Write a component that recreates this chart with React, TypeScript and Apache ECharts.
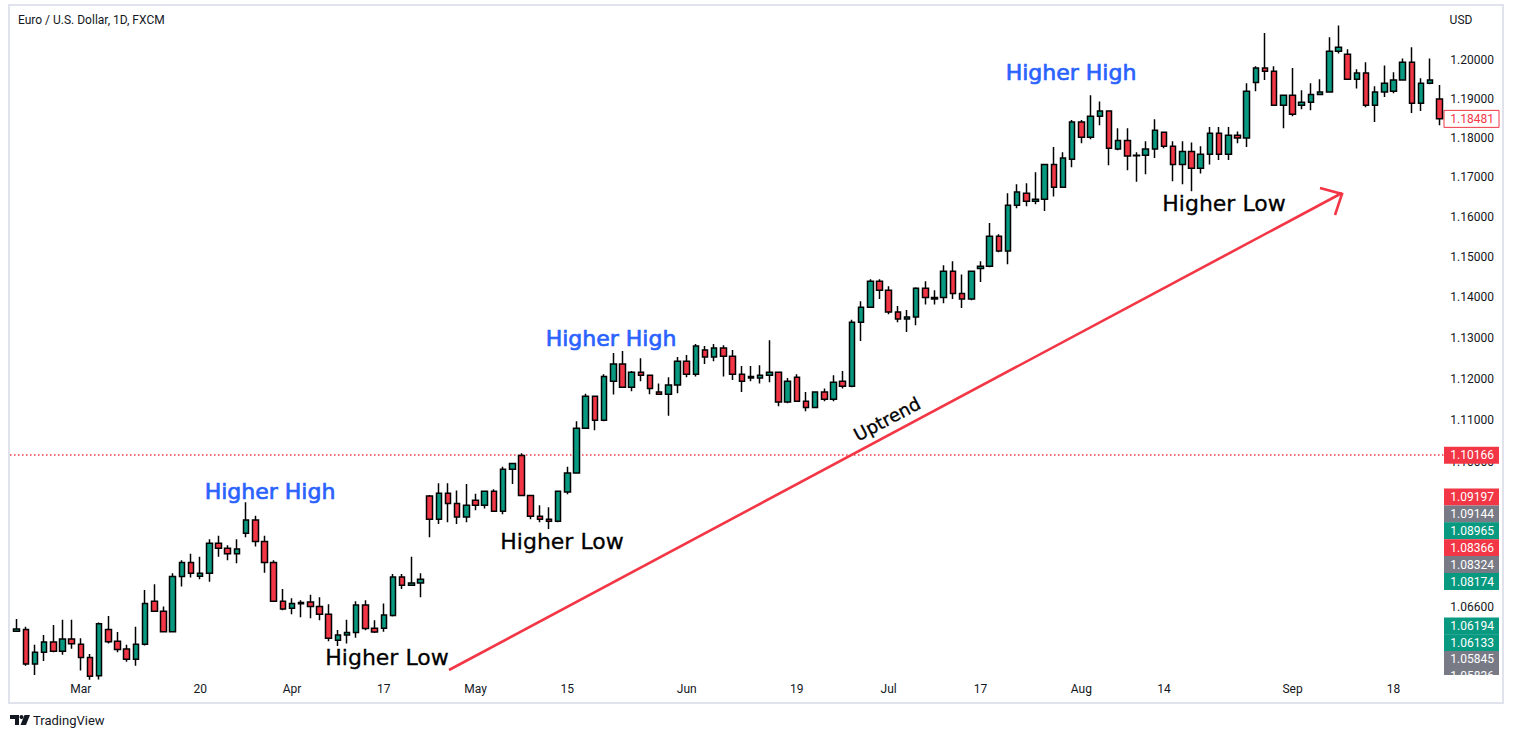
import React, { useEffect, useRef } from "react";
import * as echarts from "echarts";

// ---- DATA (EUR/USD daily) ----
const firstDay = "2017-02-20";
const lastDay = "2017-09-25";

const opens = [
  1.0605, 1.0609, 1.0530, 1.0557, 1.0580, 1.0559, 1.0587, 1.0575, 1.0545, 1.0503,
  1.0609, 1.0582, 1.0564, 1.0541, 1.0575, 1.0674, 1.0651, 1.0604, 1.0731, 1.0764,
  1.0732, 1.0739, 1.0809, 1.0797, 1.0784, 1.0832, 1.0863, 1.0813, 1.0764, 1.0674,
  1.0658, 1.0668, 1.0672, 1.0662, 1.0644, 1.0584, 1.0596, 1.0602, 1.0665, 1.0612,
  1.0612, 1.0641, 1.0730, 1.0711, 1.0716, 1.0920, 1.0865, 1.0926, 1.0902, 1.0870,
  1.0910, 1.0898, 1.0931, 1.0884, 1.0983, 1.1016, 1.0921, 1.0872, 1.0865, 1.0860,
  1.0929, 1.0974, 1.1081, 1.1158, 1.1100, 1.1194, 1.1236, 1.1180, 1.1216, 1.1209,
  1.1168, 1.1163, 1.1185, 1.1243, 1.1211, 1.1270, 1.1253, 1.1275, 1.1255, 1.1211,
  1.1206, 1.1202, 1.1209, 1.1216, 1.1144, 1.1204, 1.1146, 1.1131, 1.1168, 1.1151,
  1.1194, 1.1182, 1.1338, 1.1375, 1.1439, 1.1417, 1.1363, 1.1346, 1.1351, 1.1422,
  1.1395, 1.1399, 1.1464, 1.1409, 1.1395, 1.1471, 1.1476, 1.1551, 1.1514, 1.1629,
  1.1659, 1.1639, 1.1644, 1.1732, 1.1674, 1.1745, 1.1840, 1.1801, 1.1855, 1.1868,
  1.1771, 1.1793, 1.1754, 1.1755, 1.1771, 1.1814, 1.1778, 1.1732, 1.1765, 1.1722,
  1.1758, 1.1811, 1.1758, 1.1806, 1.1799, 1.1942, 1.1979, 1.1971, 1.1883, 1.1909,
  1.1883, 1.1891, 1.1911, 1.1917, 1.2023, 1.2015, 1.1950, 1.1966, 1.1883, 1.1917,
  1.1919, 1.1948, 1.1994, 1.1888, 1.1940, 1.1899,
];
const highs = [
  1.0633, 1.0615, 1.0574, 1.0596, 1.0619, 1.0631, 1.0631, 1.0589, 1.0553, 1.0625,
  1.0640, 1.0603, 1.0574, 1.0615, 1.0700, 1.0713, 1.0662, 1.0739, 1.0769, 1.0784,
  1.0777, 1.0818, 1.0826, 1.0804, 1.0818, 1.0905, 1.0873, 1.0826, 1.0769, 1.0702,
  1.0681, 1.0676, 1.0689, 1.0683, 1.0667, 1.0608, 1.0631, 1.0674, 1.0676, 1.0630,
  1.0669, 1.0737, 1.0737, 1.0777, 1.0739, 1.0922, 1.0950, 1.0950, 1.0933, 1.0948,
  1.0925, 1.0933, 1.0936, 1.0989, 1.0998, 1.1021, 1.0922, 1.0898, 1.0893, 1.0932,
  1.0989, 1.1098, 1.1164, 1.1159, 1.1211, 1.1263, 1.1268, 1.1219, 1.1250, 1.1210,
  1.1189, 1.1204, 1.1253, 1.1258, 1.1285, 1.1280, 1.1285, 1.1282, 1.1270, 1.1231,
  1.1231, 1.1233, 1.1294, 1.1217, 1.1202, 1.1211, 1.1168, 1.1169, 1.1177, 1.1209,
  1.1219, 1.1344, 1.1390, 1.1444, 1.1444, 1.1427, 1.1378, 1.1368, 1.1424, 1.1439,
  1.1417, 1.1479, 1.1489, 1.1456, 1.1465, 1.1489, 1.1584, 1.1556, 1.1659, 1.1682,
  1.1684, 1.1712, 1.1733, 1.1776, 1.1763, 1.1845, 1.1845, 1.1909, 1.1893, 1.1869,
  1.1824, 1.1824, 1.1763, 1.1791, 1.1847, 1.1815, 1.1791, 1.1791, 1.1788, 1.1778,
  1.1827, 1.1827, 1.1827, 1.1816, 1.1940, 1.1984, 1.2070, 1.1984, 1.1911, 1.1979,
  1.1922, 1.1940, 1.1950, 1.2059, 1.2090, 1.2028, 1.1976, 1.1994, 1.1932, 1.1986,
  1.1968, 1.2004, 1.2033, 1.1953, 1.2004, 1.1935,
];
const lows = [
  1.0603, 1.0526, 1.0505, 1.0537, 1.0557, 1.0551, 1.0565, 1.0515, 1.0494, 1.0495,
  1.0577, 1.0557, 1.0535, 1.0526, 1.0572, 1.0650, 1.0602, 1.0603, 1.0708, 1.0729,
  1.0725, 1.0719, 1.0777, 1.0769, 1.0762, 1.0823, 1.0801, 1.0740, 1.0672, 1.0653,
  1.0644, 1.0637, 1.0635, 1.0630, 1.0582, 1.0571, 1.0577, 1.0590, 1.0607, 1.0601,
  1.0604, 1.0639, 1.0702, 1.0709, 1.0683, 1.0823, 1.0854, 1.0858, 1.0854, 1.0858,
  1.0886, 1.0890, 1.0883, 1.0877, 1.0948, 1.0920, 1.0865, 1.0858, 1.0842, 1.0858,
  1.0924, 1.0973, 1.1080, 1.1076, 1.1098, 1.1162, 1.1178, 1.1170, 1.1194, 1.1163,
  1.1162, 1.1111, 1.1165, 1.1204, 1.1206, 1.1236, 1.1243, 1.1206, 1.1197, 1.1168,
  1.1194, 1.1189, 1.1192, 1.1134, 1.1141, 1.1145, 1.1122, 1.1129, 1.1146, 1.1146,
  1.1177, 1.1180, 1.1292, 1.1374, 1.1395, 1.1358, 1.1338, 1.1314, 1.1331, 1.1382,
  1.1382, 1.1385, 1.1395, 1.1373, 1.1392, 1.1437, 1.1474, 1.1511, 1.1481, 1.1621,
  1.1626, 1.1631, 1.1614, 1.1651, 1.1672, 1.1725, 1.1786, 1.1796, 1.1832, 1.1730,
  1.1768, 1.1717, 1.1688, 1.1707, 1.1748, 1.1773, 1.1689, 1.1682, 1.1664, 1.1709,
  1.1732, 1.1743, 1.1743, 1.1786, 1.1776, 1.1919, 1.1948, 1.1882, 1.1824, 1.1855,
  1.1873, 1.1870, 1.1909, 1.1916, 1.2017, 1.1949, 1.1926, 1.1878, 1.1840, 1.1904,
  1.1914, 1.1947, 1.1863, 1.1868, 1.1937, 1.1832,
];
const closes = [
  1.0610, 1.0530, 1.0557, 1.0580, 1.0559, 1.0587, 1.0576, 1.0545, 1.0502, 1.0622,
  1.0581, 1.0563, 1.0541, 1.0575, 1.0669, 1.0651, 1.0604, 1.0731, 1.0764, 1.0739,
  1.0739, 1.0809, 1.0797, 1.0784, 1.0795, 1.0863, 1.0813, 1.0764, 1.0674, 1.0656,
  1.0669, 1.0671, 1.0662, 1.0644, 1.0589, 1.0596, 1.0602, 1.0665, 1.0611, 1.0603,
  1.0642, 1.0730, 1.0711, 1.0716, 1.0725, 1.0865, 1.0926, 1.0902, 1.0870, 1.0898,
  1.0898, 1.0931, 1.0884, 1.0983, 1.0997, 1.0921, 1.0872, 1.0865, 1.0860, 1.0931,
  1.0974, 1.1081, 1.1158, 1.1100, 1.1206, 1.1236, 1.1180, 1.1216, 1.1209, 1.1177,
  1.1163, 1.1185, 1.1243, 1.1211, 1.1280, 1.1253, 1.1275, 1.1255, 1.1211, 1.1194,
  1.1202, 1.1209, 1.1216, 1.1144, 1.1194, 1.1146, 1.1131, 1.1168, 1.1151, 1.1192,
  1.1182, 1.1338, 1.1375, 1.1439, 1.1417, 1.1363, 1.1346, 1.1351, 1.1422, 1.1399,
  1.1399, 1.1464, 1.1409, 1.1395, 1.1464, 1.1476, 1.1551, 1.1514, 1.1629, 1.1662,
  1.1639, 1.1644, 1.1732, 1.1674, 1.1748, 1.1840, 1.1801, 1.1855, 1.1868, 1.1773,
  1.1793, 1.1753, 1.1755, 1.1771, 1.1819, 1.1778, 1.1732, 1.1765, 1.1722, 1.1758,
  1.1811, 1.1758, 1.1806, 1.1799, 1.1919, 1.1979, 1.1971, 1.1883, 1.1909, 1.1860,
  1.1891, 1.1911, 1.1917, 1.2023, 1.2033, 1.1950, 1.1966, 1.1883, 1.1917, 1.1940,
  1.1948, 1.1994, 1.1888, 1.1940, 1.1948, 1.18481,
];

const timeTicks: [string, string][] = [
  ["2017-03-01", "Mar"], ["2017-03-20", "20"], ["2017-04-03", "Apr"], ["2017-04-17", "17"],
  ["2017-05-01", "May"], ["2017-05-15", "15"], ["2017-06-01", "Jun"], ["2017-06-19", "19"],
  ["2017-07-03", "Jul"], ["2017-07-17", "17"], ["2017-08-01", "Aug"], ["2017-08-14", "14"],
  ["2017-09-01", "Sep"], ["2017-09-18", "18"],
];
const priceTicks = [1.2, 1.19, 1.18, 1.17, 1.16, 1.15, 1.14, 1.13, 1.12, 1.11, 1.1, 1.066];
const lastPrice = 1.18481;
const levelPrice = 1.10166;
const badgeStackA: [string, string][] = [
  ["1.09197", "red"], ["1.09144", "gray"], ["1.08965", "green"],
  ["1.08366", "red"], ["1.08324", "gray"], ["1.08174", "green"],
];
const badgeStackB: [string, string][] = [
  ["1.06194", "green"], ["1.06133", "green"], ["1.05845", "gray"], ["1.05836", "gray"],
];
const titleText = "Euro / U.S. Dollar, 1D, FXCM";
const currencyText = "USD";

// ---- styles / layout ----
const GREEN = "#089981";
const RED = "#f23645";
const GRAY = "#787b86";
const BLUE = "#2962ff";
const TXT = "#131722";
const badgeColor: Record<string, string> = { red: RED, gray: GRAY, green: GREEN };

function weekdays(start: string, end: string): string[] {
  const out: string[] = [];
  const d = new Date(start + "T00:00:00Z");
  const e = new Date(end + "T00:00:00Z");
  while (d <= e) {
    const w = d.getUTCDay();
    if (w !== 0 && w !== 6) out.push(d.toISOString().slice(0, 10));
    d.setUTCDate(d.getUTCDate() + 1);
  }
  return out;
}

export default function App() {
  const ref = useRef<HTMLDivElement>(null);
  useEffect(() => {
    if (!ref.current) return;
    const chart = echarts.init(ref.current, null, { renderer: "svg" });
    const dates = weekdays(firstDay, lastDay);
    const tickMap = new Map(timeTicks);
    const candles = opens.map((o, i) => [o, closes[i], lows[i], highs[i]]);

    chart.setOption({
      animation: false,
      backgroundColor: "#ffffff",
      grid: { left: 12, right: 70, top: 6, bottom: 63 },
      xAxis: {
        type: "category",
        data: dates,
        boundaryGap: true,
        axisLine: { show: false },
        axisTick: { show: false },
        splitLine: { show: false },
        axisLabel: {
          interval: (_idx: number, val: string) => tickMap.has(val),
          formatter: (val: string) => tickMap.get(val) ?? "",
          color: TXT,
          fontSize: 12,
          fontFamily: "Roboto",
          margin: 8,
        },
      },
      yAxis: {
        type: "log",
        logBase: 10,
        min: 1.050496,
        max: 1.2141,
        position: "right",
        axisLine: { show: false },
        axisTick: { show: false },
        axisLabel: { show: false },
        splitLine: { show: false },
      },
      series: [
        {
          type: "candlestick",
          data: candles,
          barWidth: 6,
          clip: true,
          itemStyle: {
            color: GREEN,
            color0: RED,
            borderColor: "#000000",
            borderColor0: "#000000",
            borderWidth: 1.5,
          },
        },
      ],
    });

    const yPix = (v: number) => chart.convertToPixel({ yAxisIndex: 0 }, v) as number;
    const font12 = "12px Roboto";
    const els: any[] = [];

    // outer frame
    els.push({
      type: "rect",
      shape: { x: 9, y: 5, width: 1494, height: 698 },
      style: { fill: "none", stroke: "#e0e3eb", lineWidth: 2 },
      silent: true,
    });

    // horizontal level (dotted) through the library's price scale
    const yLevel = Math.round(yPix(levelPrice));
    els.push({
      type: "line",
      shape: { x1: 10, y1: yLevel, x2: 1444, y2: yLevel },
      style: { stroke: RED, lineWidth: 1.3, lineDash: [1.5, 2.5] },
    });

    // title & currency
    els.push({ type: "text", x: 18, y: 20, style: { text: titleText, fill: TXT, font: font12, verticalAlign: "middle" } });
    els.push({ type: "text", x: 1461, y: 20, style: { text: currencyText, fill: TXT, font: font12, align: "center", verticalAlign: "middle" } });

    // price scale labels
    priceTicks.forEach((p) => {
      els.push({ type: "text", x: 1494, y: yPix(p), style: { text: p.toFixed(5), fill: TXT, font: font12, align: "right", verticalAlign: "middle" } });
    });

    const badge = (text: string, yc: number, fill: string, stroke?: string, txtColor?: string) => {
      els.push({
        type: "rect",
        shape: { x: 1444, y: yc - 8.5, width: 55, height: 17 },
        style: { fill, stroke: stroke || undefined, lineWidth: stroke ? 1 : 0 },
      });
      els.push({ type: "text", x: 1494, y: yc, style: { text, fill: txtColor || "#ffffff", font: font12, align: "right", verticalAlign: "middle" } });
    };
    badge(lastPrice.toFixed(5), yPix(lastPrice), "#ffffff", RED, RED);
    badge(levelPrice.toFixed(5), yPix(levelPrice), RED);
    badgeStackA.forEach(([t, c], k) => badge(t, 497 + k * 16.9, badgeColor[c]));
    badgeStackB.forEach(([t, c], k) => badge(t, 626 + k * 16.7, badgeColor[c]));
    // the price scale clips the last badge
    els.push({ type: "rect", shape: { x: 1443, y: 675, width: 58, height: 10 }, style: { fill: "#ffffff" } });

    // drawings
    const anno = (text: string, x: number, y: number, color: string, sw: number) =>
      els.push({
        type: "text", x, y,
        style: { text, fill: color, stroke: color, lineWidth: sw, font: "22px 'DejaVu Sans'", align: "center", verticalAlign: "middle" },
      });
    anno("Higher High", 270, 491, BLUE, 0.7);
    anno("Higher High", 611, 338, BLUE, 0.7);
    anno("Higher High", 1071, 72, BLUE, 0.7);
    anno("Higher Low", 387, 657, "#000000", 0.3);
    anno("Higher Low", 562, 541, "#000000", 0.3);
    anno("Higher Low", 1224, 203, "#000000", 0.3);

    els.push({ type: "line", shape: { x1: 449, y1: 670, x2: 1342, y2: 193 }, style: { stroke: RED, lineWidth: 2.6 } });
    els.push({ type: "polyline", shape: { points: [[1320, 188], [1342, 194], [1335, 215]] }, style: { stroke: RED, lineWidth: 2.6, fill: "none" } });
    els.push({
      type: "text", x: 887, y: 419, rotation: (28 * Math.PI) / 180,
      style: { text: "Uptrend", fill: "#000000", stroke: "#000000", lineWidth: 0.3, font: "18px 'DejaVu Sans'", align: "center", verticalAlign: "middle" },
    });

    // TradingView footer
    els.push({ type: "polygon", shape: { points: [[10, 715], [19, 715], [19, 725], [15, 725], [15, 719], [10, 719]] }, style: { fill: TXT } });
    els.push({ type: "circle", shape: { cx: 21.5, cy: 717, r: 2 }, style: { fill: TXT } });
    els.push({ type: "polygon", shape: { points: [[24.5, 715], [30, 715], [26, 725], [20.5, 725]] }, style: { fill: TXT } });
    els.push({ type: "text", x: 33, y: 720, style: { text: "TradingView", fill: TXT, font: "13px Roboto", verticalAlign: "middle" } });

    chart.setOption({ graphic: { elements: els } });
    return () => chart.dispose();
  }, []);

  return (
    <div
      ref={ref}
      style={{ position: "fixed", left: 0, top: 0, width: 1514, height: 738, background: "#fff" }}
    />
  );
}
